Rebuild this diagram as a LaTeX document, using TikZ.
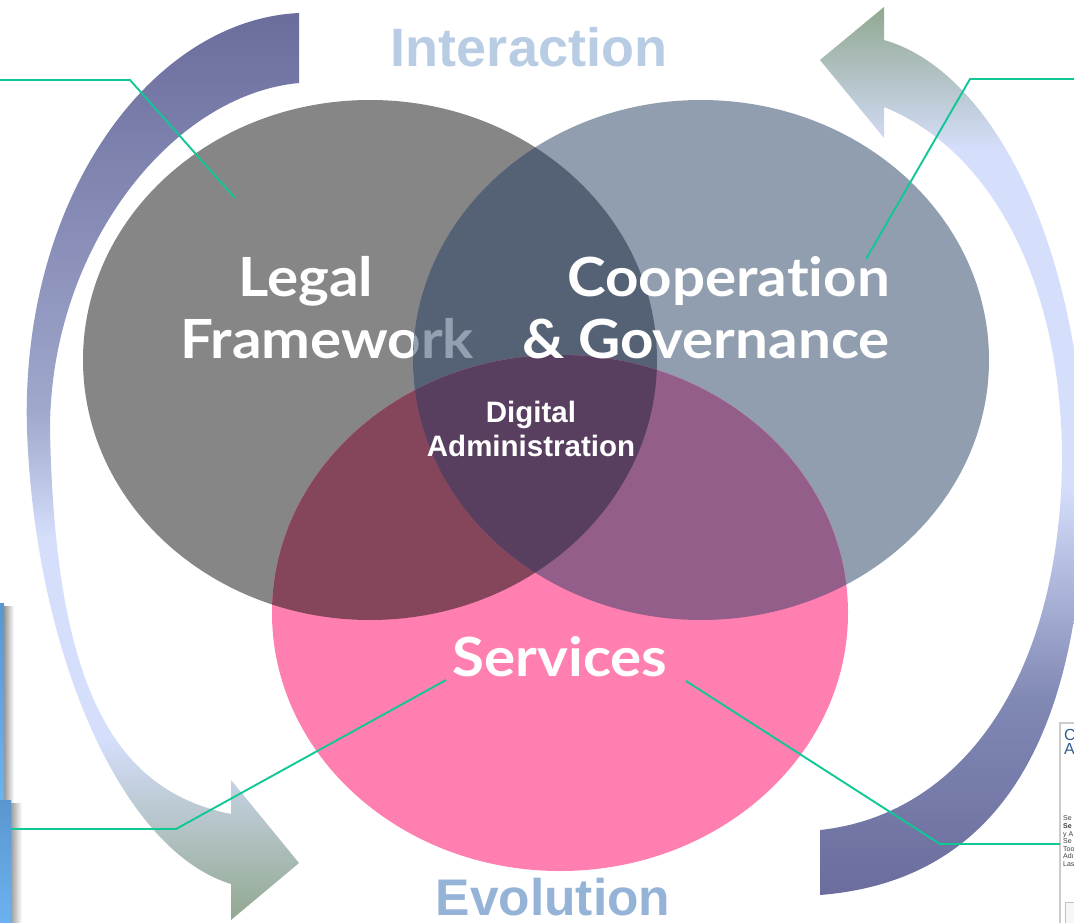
\documentclass[tikz,border=0pt]{standalone}
\usepackage{fontspec}
\newfontfamily\gillf{Lato}[Ligatures={NoCommon,NoRequired,NoContextual}, FakeStretch=1.08]
\newfontfamily\arialf{Liberation Sans}
\definecolor{clegal}{HTML}{868686}
\definecolor{ccoop}{HTML}{919EAF}
\definecolor{cserv}{HTML}{FF80B0}
\definecolor{cLC}{HTML}{556275}
\definecolor{cLS}{HTML}{85465C}
\definecolor{cCS}{HTML}{945E8B}
\definecolor{cLCS}{HTML}{583F5F}
\definecolor{ctxtLC}{HTML}{93A0B2}
\definecolor{adark}{HTML}{6B6D9D}
\definecolor{amid}{HTML}{8088B4}
\definecolor{alavm}{HTML}{A0A8CC}
\definecolor{alight}{HTML}{D5DEFB}
\definecolor{agreen}{HTML}{91A890}
\definecolor{lineg}{HTML}{10C896}
\definecolor{tinter}{HTML}{B8CCE4}
\definecolor{tevol}{HTML}{95B3D7}
\definecolor{boxblueA}{HTML}{5A96CE}
\definecolor{boxblueB}{HTML}{6CB2F0}
\definecolor{fragblue}{HTML}{2F5F8F}
\pgfdeclareverticalshading{leftarr}{100bp}{color(0bp)=(agreen); color(25bp)=(agreen); color(35bp)=(alight); color(46bp)=(alight); color(53bp)=(alavm); color(75bp)=(adark); color(100bp)=(adark)}
\pgfdeclareverticalshading{rightarr}{100bp}{color(0bp)=(adark); color(25bp)=(adark); color(36bp)=(amid); color(48bp)=(alight); color(67bp)=(alight); color(75bp)=(agreen); color(100bp)=(agreen)}
\newcommand\ellLegal{(370,360) ellipse [x radius=287pt, y radius=260pt]}
\newcommand\ellCoop{(701,360) ellipse [x radius=288pt, y radius=260pt]}
\newcommand\ellServ{(560,613) ellipse [x radius=288pt, y radius=258pt]}
\tikzset{
  bigw/.style={text=white, font=\gillf\bfseries\fontsize{54}{60}\selectfont, inner sep=0pt},
  admin/.style={text=white, font=\arialf\bfseries\fontsize{29.5}{32}\selectfont, inner sep=0pt},
  titletxt/.style={font=\arialf\bfseries\fontsize{54}{60}\selectfont, inner sep=0pt},
  conn/.style={draw=lineg, line width=1.9pt},
  fragsmall/.style={font=\arialf\fontsize{7}{8}\selectfont, text=black!75, inner sep=0pt, anchor=base west},
}
\begin{document}
\begin{tikzpicture}[x=1pt,y=-1pt]
\useasboundingbox[fill=white] (0,0) rectangle (1074,923);

% curved arrows
\shade[shading=leftarr] (299,13) .. controls (150,20) and (20,200) .. (27,430)
  .. controls (35,650) and (120,850) .. (231,884) -- (231,920) -- (299,863) -- (231,780) -- (231,814)
  .. controls (110,790) and (55,680) .. (50,430) .. controls (50,250) and (170,95) .. (299,83) -- cycle;
\shade[shading=rightarr] (820,830) .. controls (960,815) and (1060,680) .. (1062,460)
  .. controls (1062,280) and (990,150) .. (884,107) -- (884,138) -- (820,60) -- (884,7) -- (884,40)
  .. controls (990,70) and (1080,240) .. (1085,470) .. controls (1085,720) and (1010,880) .. (820,895) -- cycle;

% Legal framework circle and text
\fill[clegal] \ellLegal;
\node[bigw, anchor=base] (legal1) at (306,296) {Legal};
\node[bigw, anchor=base] (legal2) at (327,358) {Framework};

% Cooperation circle
\fill[ccoop] \ellCoop;
\begin{scope}
  \clip \ellCoop;
  \fill[cLC] \ellLegal;
  \node[bigw, anchor=base, text=ctxtLC] (legal2b) at (327,358) {Framework};
\end{scope}

% Services circle
\fill[cserv] \ellServ;
\begin{scope}
  \clip \ellServ;
  \fill[cLS] \ellLegal;
  \fill[cCS] \ellCoop;
  \clip \ellLegal;
  \fill[cLCS] \ellCoop;
\end{scope}

% texts
\node[bigw, anchor=base east] (coop1) at (890,296) {Cooperation};
\node[bigw, anchor=base east] (coop2) at (890,358) {\& Governance};
\node[bigw, anchor=base] (serv) at (560,676) {Services};
\node[admin, anchor=base] (dig1) at (531,422) {Digital};
\node[admin, anchor=base] (dig2) at (531,456) {Administration};
\node[titletxt, text=tinter, anchor=base] (inter) at (529,67) {Interaction};
\node[titletxt, text=tevol, anchor=base, font=\arialf\bfseries\fontsize{51.5}{56}\selectfont] (evol) at (553,915) {Evolution};

% edge fragments: left blue boxes
\shade[left color=black!45, right color=white] (3,606) rectangle (14,803);
\shade[top color=boxblueA, bottom color=boxblueB] (0,603) rectangle (4,800);
\shade[left color=black!45, right color=white] (9,803) rectangle (22,923);
\shade[top color=boxblueA, bottom color=boxblueB] (0,800) rectangle (11,923);

% edge fragment: right box
\draw[black!20, line width=1.5pt, fill=white] (1060,723) rectangle (1080,930);
\node[font=\arialf\fontsize{16}{16}\selectfont, text=fragblue, inner sep=0pt, anchor=base west] (fragC) at (1064,740) {C};
\node[font=\arialf\fontsize{16}{16}\selectfont, text=fragblue, inner sep=0pt, anchor=base west] (fragA) at (1064,754) {A};
\node[fragsmall] (fs1) at (1063,820) {Se};
\node[fragsmall, font=\arialf\bfseries\fontsize{7}{8}\selectfont] (fs2) at (1063,828) {Se};
\node[fragsmall] (fs3) at (1063,836) {y A};
\node[fragsmall] (fs4) at (1063,843) {Se};
\node[fragsmall] (fs5) at (1063,851) {Too};
\node[fragsmall] (fs6) at (1063,858) {Adı};
\node[fragsmall] (fs7) at (1063,866) {Las};
\draw[black!25, line width=1pt, fill=black!3] (1065,902) rectangle (1080,930);

% connectors
\coordinate (pL0) at (0,80);
\coordinate (pL1) at (130,80);
\coordinate (pL2) at (235,198);
\coordinate (pR0) at (1074,79);
\coordinate (pR1) at (970,79);
\coordinate (pR2) at (866,259);
\coordinate (pBL0) at (11,829);
\coordinate (pBL1) at (176,829);
\coordinate (pBL2) at (446,680);
\coordinate (pBR0) at (1060,844);
\coordinate (pBR1) at (940,844);
\coordinate (pBR2) at (686,681);
\draw[conn] (pL0) -- (pL1) -- (pL2);
\draw[conn] (pR0) -- (pR1) -- (pR2);
\draw[conn] (pBL0) -- (pBL1) -- (pBL2);
\draw[conn] (pBR0) -- (pBR1) -- (pBR2);
\end{tikzpicture}
\end{document}
